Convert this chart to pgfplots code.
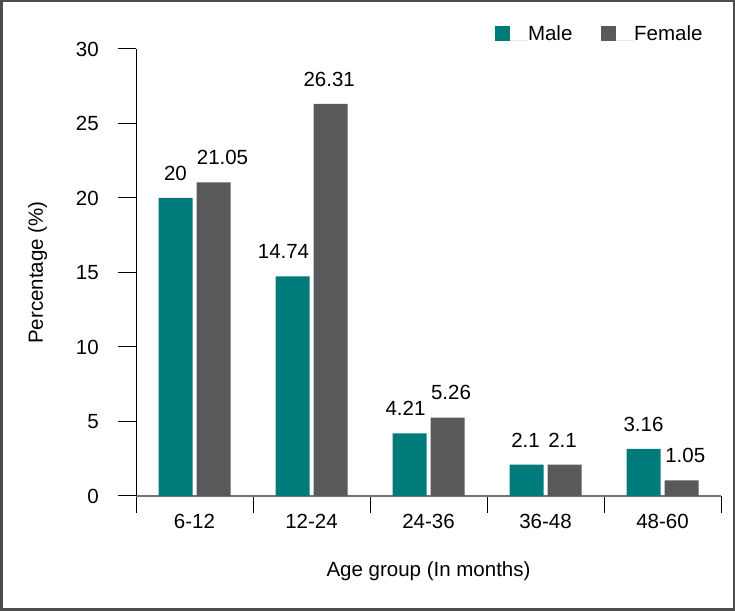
\documentclass[border=0pt]{standalone}
\usepackage{pgfplots}
\usepackage{pgfplotstable}
\pgfplotsset{compat=1.18}
\usepackage{fontspec}
\setmainfont{Liberation Sans}
\definecolor{maleC}{HTML}{007B7B}
\definecolor{femC}{HTML}{58595B}
\pgfplotstableread{
x y dx lbl
0 20 0 20
1 14.74 -9 14.74
2 4.21 -4 4.21
3 2.1 -1 2.1
4 3.16 0 3.16
}\maletab
\pgfplotstableread{
x y dx lbl
0 21.05 9 21.05
1 26.31 -1.3 26.31
2 5.26 3.5 5.26
3 2.1 -2 2.1
4 1.05 3.7 1.05
}\femtab
\begin{document}
\begin{tikzpicture}[x=1bp,y=1bp,font=\fontsize{20.5bp}{24bp}\selectfont]
\useasboundingbox (0,0) rectangle (735,611);
\draw[line width=2.5bp, color=black!70] (1.25,1.25) rectangle (733.75,609.75);
\begin{axis}[
  at={(136bp,115bp)}, anchor=south west,
  scale only axis, width=585bp, height=447bp,
  xmin=-0.5, xmax=4.5, ymin=0, ymax=30,
  axis x line*=bottom, axis y line*=left,
  x axis line style={draw=black!55, line width=1.6bp},
  y axis line style={draw=black, line width=1bp},
  ybar, bar width=34bp,
  ytick={0,5,...,30},
  xtick={0,...,4}, xticklabels={6-12,12-24,24-36,36-48,48-60},
  minor xtick={-0.5,0.5,...,4.5},
  tick align=outside,
  major tick length=18bp, minor tick length=17bp,
  major x tick style={draw=none},
  minor x tick style={draw=black, line width=1bp},
  major y tick style={draw=black, line width=1bp},
  /pgf/number format/assume math mode=true,
  yticklabel style={anchor=east, inner sep=0pt},
  yticklabel shift=19bp,
  xticklabel style={anchor=north, inner sep=0pt},
  xlabel={Age group (In months)},
  ylabel={Percentage (\%)},
  xlabel style={at={([yshift=-81bp]axis description cs:0.5,0)}, anchor=base, inner sep=0pt},
  ylabel style={at={([xshift=-93bp]axis description cs:0,0.5)}, anchor=base, inner sep=0pt, rotate=0},
  legend columns=2,
  legend style={at={(axis description cs:0.6137,1.0156)}, anchor=south west, draw=none, fill=none,
    inner sep=0pt, outer sep=0pt, nodes={inner sep=0pt, outer sep=0pt},
    cells={anchor=base west},
    /tikz/every even column/.append style={column sep=28.7bp}},
  nodes near coords,
  point meta=explicit symbolic,
  visualization depends on={\thisrow{dx} \as \dx},
  every node near coord/.append style={anchor=south, inner sep=0pt, yshift=17.5bp, xshift={\dx*1bp}, text=black},
  clip=false,
]
\addplot[fill=maleC, draw=none, bar shift=-19bp,
  legend image code/.code={\fill[maleC] (0bp,0bp) rectangle (15bp,15bp); \path (0bp,0bp) -- (33bp,0bp);}]
  table[x=x, y=y, meta=lbl] {\maletab};
\addplot[fill=femC, draw=none, bar shift=19bp,
  legend image code/.code={\fill[femC] (0bp,0bp) rectangle (15bp,15bp); \path (0bp,0bp) -- (33bp,0bp);}]
  table[x=x, y=y, meta=lbl] {\femtab};
\legend{Male, Female}
\end{axis}
\end{tikzpicture}
\end{document}
